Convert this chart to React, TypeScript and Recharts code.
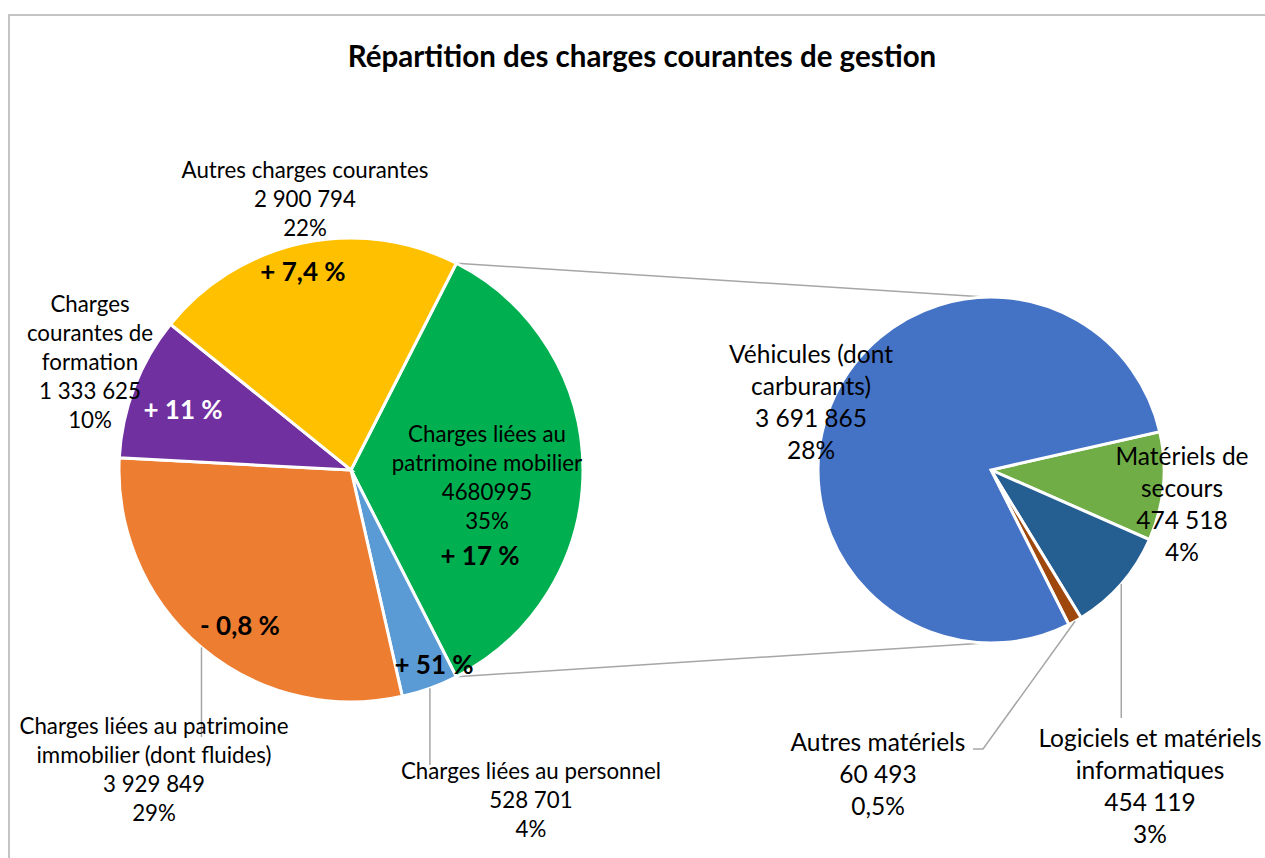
import React from "react";
import { Cell, Customized, Pie, PieChart } from "recharts";

// main pie, clockwise from the slice that is broken out
const mainNames = [
  ["Charges liées au", "patrimoine mobilier"],
  ["Charges liées au personnel"],
  ["Charges liées au patrimoine", "immobilier (dont fluides)"],
  ["Charges", "courantes de", "formation"],
  ["Autres charges courantes"],
];
const mainValues = [4680995, 528701, 3929849, 1333625, 2900794];
const mainChanges = ["+ 17 %", "+ 51 %", "- 0,8 %", "+ 11 %", "+ 7,4 %"];
const mainColors = ["#00B050", "#5B9BD5", "#ED7D31", "#7030A0", "#FFC000"];

// detail of "patrimoine mobilier"
const detailNames = [
  ["Matériels de", "secours"],
  ["Logiciels et matériels", "informatiques"],
  ["Autres matériels"],
  ["Véhicules (dont", "carburants)"],
];
const detailValues = [474518, 454119, 60493, 3691865];
const detailColors = ["#70AD47", "#255E91", "#9E480E", "#4472C4"];

const TITLE = "Répartition des charges courantes de gestion";
const FONT = "Lato, 'Open Sans', sans-serif";

const total = mainValues.reduce((a, b) => a + b, 0);
const mainData = mainValues.map((value, i) => ({ name: mainNames[i].join(" "), value }));
const detailData = detailValues.map((value, i) => ({ name: detailNames[i].join(" "), value }));

const LEFT = { cx: 351, cy: 470, r: 232, start: 63 };
const RIGHT = { cx: 991, cy: 470, r: 173, start: 12.8 };

type Leader = Array<[number | null, number]>;
type LabelPos = {
  dx: number;
  dy: number;
  group?: boolean;
  leader?: Leader;
  change?: { dx: number; dy: number; color?: string };
};

const mainLayout: LabelPos[] = [
  { dx: 136, dy: -37, group: false, change: { dx: 129, dy: 85 } },
  { dx: 180, dy: 300, leader: [[null, 295]], change: { dx: 83, dy: 194 } },
  { dx: -197, dy: 255, leader: [[null, 267]], change: { dx: -111, dy: 155 } },
  { dx: -261, dy: -167, change: { dx: -168, dy: -61, color: "#fff" } },
  { dx: -46, dy: -301, change: { dx: -48, dy: -199 } },
];

const detailLayout: LabelPos[] = [
  { dx: 191, dy: -15 },
  { dx: 159, dy: 267, leader: [[null, 248]] },
  { dx: -113, dy: 271, leader: [[-8, 279], [-18, 279]] },
  { dx: -180, dy: -117 },
];

const fmt = (v: number, group = true) =>
  group ? String(v).replace(/\B(?=(\d{3})+(?!\d))/g, " ") : String(v);

const pct = (v: number) => {
  const p = (v / total) * 100;
  return p < 1 ? p.toFixed(1).replace(".", ",") + "%" : Math.round(p) + "%";
};

const RAD = Math.PI / 180;
const polar = (cx: number, cy: number, r: number, angle: number) => ({
  x: cx + r * Math.cos(-angle * RAD),
  y: cy + r * Math.sin(-angle * RAD),
});

function makeLabel(
  names: string[][],
  values: number[],
  layout: LabelPos[],
  fontSize: number,
  lineH: number,
  changes?: string[]
) {
  return (props: any) => {
    const { cx, cy, midAngle, outerRadius, index } = props;
    const L = layout[index];
    const a = polar(cx, cy, outerRadius, midAngle);
    const lines = [...names[index], fmt(values[index], L.group !== false), pct(values[index])];
    const x = cx + L.dx;
    const y0 = cy + L.dy;
    const pts = L.leader
      ? [`${a.x},${a.y}`, ...L.leader.map(([px, py]) => `${px === null ? a.x : cx + px},${cy + py}`)].join(" ")
      : "";
    return (
      <g>
        {L.leader && <polyline points={pts} fill="none" stroke="#a6a6a6" strokeWidth={1.5} />}
        {lines.map((t, i) => (
          <text
            key={i}
            x={x}
            y={y0 + i * lineH}
            textAnchor="middle"
            dominantBaseline="central"
            fontFamily={FONT}
            fontSize={fontSize}
            fill="#000"
          >
            {t}
          </text>
        ))}
        {changes && L.change && (
          <text
            x={cx + L.change.dx}
            y={cy + L.change.dy}
            textAnchor="middle"
            dominantBaseline="central"
            fontFamily={FONT}
            fontSize={26}
            fontWeight="bold"
            fill={L.change.color || "#000"}
          >
            {changes[index]}
          </text>
        )}
      </g>
    );
  };
}

// title, and the lines joining the broken-out slice to the second pie
function Connectors() {
  const share = (mainValues[0] / total) * 360;
  const p1 = polar(LEFT.cx, LEFT.cy, LEFT.r, LEFT.start);
  const p2 = polar(LEFT.cx, LEFT.cy, LEFT.r, LEFT.start - share);
  const q1 = polar(RIGHT.cx, RIGHT.cy, RIGHT.r, 92);
  const q2 = polar(RIGHT.cx, RIGHT.cy, RIGHT.r, 268);
  return (
    <g>
      <text
        x={642}
        y={55}
        textAnchor="middle"
        dominantBaseline="central"
        fontFamily={FONT}
        fontSize={29.5}
        fontWeight="bold"
        fill="#000"
      >
        {TITLE}
      </text>
      <line x1={p1.x} y1={p1.y} x2={q1.x} y2={q1.y} stroke="#a6a6a6" strokeWidth={1.5} />
      <line x1={p2.x} y1={p2.y} x2={q2.x} y2={q2.y} stroke="#a6a6a6" strokeWidth={1.5} />
    </g>
  );
}

export default function App() {
  return (
    <div style={{ position: "absolute", left: 0, top: 0, width: 1265, height: 858, overflow: "hidden", background: "#fff" }}>
      <div
        style={{
          position: "absolute",
          left: 8,
          top: 14,
          width: 1400,
          height: 1000,
          border: "2px solid #c4c4c4",
        }}
      />
      <div style={{ position: "absolute", left: 0, top: 0 }}>
        <PieChart width={1265} height={858} margin={{ top: 0, right: 0, bottom: 0, left: 0 }}>
          <Customized component={Connectors} />
          <Pie
            data={mainData}
            dataKey="value"
            cx={LEFT.cx}
            cy={LEFT.cy}
            outerRadius={LEFT.r}
            startAngle={LEFT.start}
            endAngle={LEFT.start - 360}
            stroke="#fff"
            strokeWidth={3}
            labelLine={false}
            label={makeLabel(mainNames, mainValues, mainLayout, 22.3, 29, mainChanges)}
            isAnimationActive={false}
          >
            {mainData.map((d, i) => (
              <Cell key={d.name} fill={mainColors[i]} />
            ))}
          </Pie>
          <Pie
            data={detailData}
            dataKey="value"
            cx={RIGHT.cx}
            cy={RIGHT.cy}
            outerRadius={RIGHT.r}
            startAngle={RIGHT.start}
            endAngle={RIGHT.start - 360}
            stroke="#fff"
            strokeWidth={3}
            labelLine={false}
            label={makeLabel(detailNames, detailValues, detailLayout, 24.5, 32)}
            isAnimationActive={false}
          >
            {detailData.map((d, i) => (
              <Cell key={d.name} fill={detailColors[i]} />
            ))}
          </Pie>
        </PieChart>
      </div>
    </div>
  );
}
